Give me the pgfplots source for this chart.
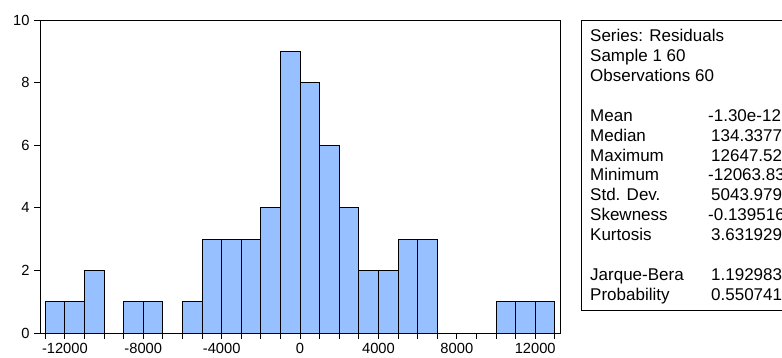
\documentclass[border=0pt]{standalone}
\usepackage{pgfplots}
\pgfplotsset{compat=1.18}
\usepackage{fontspec}
\setmainfont{Liberation Sans}
\definecolor{barblue}{RGB}{150,192,255}
\begin{document}
\begin{tikzpicture}
\useasboundingbox (0bp,0bp) rectangle (782bp,358bp);
\clip (0bp,0bp) rectangle (782bp,358bp);
\fill[white] (0bp,0bp) rectangle (782bp,358bp);
\begin{axis}[
  at={(40bp,25bp)}, anchor=south west,
  width=520.5bp, height=313bp, scale only axis,
  xmin=-13270, xmax=13290, ymin=0, ymax=10,
  xtick={-12000,-8000,-4000,0,4000,8000,12000},
  xticklabels={-12000,-8000,-4000,0,4000,8000,12000},
  minor xtick={-13000,-11000,-10000,-9000,-7000,-6000,-5000,-3000,-2000,-1000,1000,2000,3000,5000,6000,7000,9000,10000,11000,13000},
  ytick={0,2,4,6,8,10},
  yticklabels={0,2,4,6,8,10},
  xtick pos=bottom, ytick pos=left,
  tick align=outside,
  major tick length=6bp, minor tick length=6bp,
  tick style={black, line width=0.8bp},
  axis line style={black, line width=0.9bp},
  ticklabel style={font=\fontsize{14.7bp}{17bp}\selectfont},
  xticklabel style={yshift=-1bp},
  yticklabel style={xshift=-1bp},
  /pgf/number format/assume math mode=true,
  axis on top=false,
]
\addplot[ybar interval, fill=barblue, draw=black, line width=0.8bp] coordinates {
(-13000,1) (-12000,1) (-11000,2) (-10000,0) (-9000,1) (-8000,1) (-7000,0)
(-6000,1) (-5000,3) (-4000,3) (-3000,3) (-2000,4) (-1000,9) (0,8)
(1000,6) (2000,4) (3000,2) (4000,2) (5000,3) (6000,3) (7000,0)
(8000,0) (9000,0) (10000,1) (11000,1) (12000,1) (13000,1)};
\end{axis}
% statistics box
\draw[black, line width=0.9bp, fill=white] (581bp,48bp) rectangle (800bp,338bp);
\begin{scope}[every node/.style={anchor=base west, inner sep=0pt, font=\fontsize{17bp}{20bp}\selectfont}]
\node at (590bp,316bp) {Series: Residuals};
\node at (590bp,296.15bp) {Sample 1 60};
\node at (590bp,276.3bp) {Observations 60};
\node at (590bp,236.6bp) {Mean};
\node at (590bp,216.75bp) {Median};
\node at (590bp,196.9bp) {Maximum};
\node at (590bp,177.05bp) {Minimum};
\node at (590bp,157.2bp) {Std. Dev.};
\node at (590bp,137.35bp) {Skewness};
\node at (590bp,117.5bp) {Kurtosis};
\node at (590bp,77.8bp) {Jarque-Bera};
\node at (590bp,57.95bp) {Probability};
\node at (708bp,236.6bp) {-1.30e-12};
\node at (711bp,216.75bp) {134.3377};
\node at (711bp,196.9bp) {12647.52};
\node at (708bp,177.05bp) {-12063.83};
\node at (711bp,157.2bp) {5043.979};
\node at (708bp,137.35bp) {-0.139516};
\node at (711bp,117.5bp) {3.631929};
\node at (711bp,77.8bp) {1.192983};
\node at (711bp,57.95bp) {0.550741};
\end{scope}
\end{tikzpicture}
\end{document}
